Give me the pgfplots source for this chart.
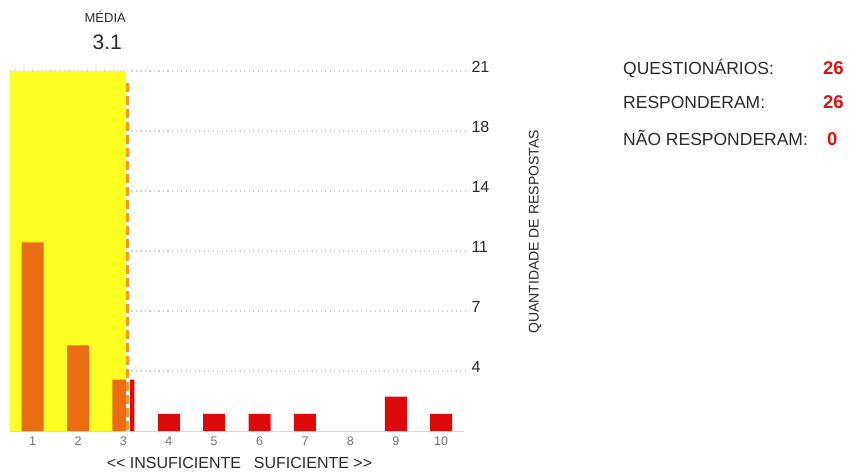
\documentclass[border=0pt]{standalone}
\usepackage{pgfplots}
\pgfplotsset{compat=1.18}
\usepackage{fontspec}
\setmainfont{Liberation Sans}
\definecolor{ylw}{HTML}{FFFF22}
\definecolor{barred}{HTML}{DC0A0A}
\definecolor{dashor}{HTML}{EE9A2A}
\definecolor{valred}{HTML}{DD1111}
\definecolor{gridgray}{HTML}{D4D4D4}
\definecolor{base}{HTML}{F4C8C8}
\definecolor{txt}{HTML}{2A2A2A}
\begin{document}
\begin{tikzpicture}
\path[use as bounding box] (-10pt,-41pt) rectangle (845pt,431pt);
\begin{axis}[
  at={(0pt,0pt)}, anchor=south west,
  scale only axis, width=457pt, height=360pt,
  xmin=0.5, xmax=10.57, ymin=0, ymax=21,
  axis line style={draw=none},
  xtick={1,2,3,4,5,6,7,8,9,10},
  ytick={3.5,7,10.5,14,17.5,21},
  yticklabels={4,7,11,14,18,21},
  yticklabel pos=right,
  major tick length=0pt,
  ymajorgrids,
  grid style={gridgray, line width=1.3pt, dash pattern=on 1.3pt off 3.2pt},
  /pgf/number format/assume math mode=true,
  x tick label style={font=\fontsize{12.5}{12.5}\selectfont, text=black!55, yshift=-2pt},
  y tick label style={font=\fontsize{16}{16}\selectfont, text=txt, xshift=1pt, yshift=4pt},
  xlabel={<{}< INSUFICIENTE\hspace{0.8em}SUFICIENTE >{}>},
  xlabel style={font=\fontsize{16}{16}\selectfont, text=txt, at={(rel axis cs:0.5,0)}, anchor=center, yshift=-32pt, xshift=1pt},
  clip=false,
]
\addplot[fill=ylw, draw=none] coordinates {(0.5,21) (3.1,21)} \closedcycle;
\addplot[ybar, bar width=22pt, fill=barred, draw=none] coordinates {
  (1,11) (2,5) (3,3) (4,1) (5,1) (6,1) (7,1) (8,0) (9,2) (10,1)};
\addplot[fill=ylw, fill opacity=0.4, draw=none] coordinates {(0.5,21) (3.1,21)} \closedcycle;
\addplot[base, line width=1pt] coordinates {(0.5,0) (10.5,0)};
\addplot[white, line width=4pt] coordinates {(3.1,0) (3.1,21)};
\addplot[dashor, line width=3pt, dash pattern=on 9pt off 4pt] coordinates {(3.1,20.3) (3.1,0)};
\end{axis}
\node[rotate=90, font=\fontsize{14}{14}\selectfont, text=txt] at (525pt,199pt) {QUANTIDADE DE RESPOSTAS};
\node[anchor=base east, inner sep=0pt, font=\fontsize{13}{13}\selectfont, text=txt] at (116pt,408pt) {MÉDIA};
\node[anchor=base east, inner sep=0pt, font=\fontsize{21}{21}\selectfont, text=txt] at (112pt,381pt) {3.1};
\node[anchor=base west, inner sep=0pt, font=\fontsize{17.5}{17.5}\selectfont, text=txt] at (613pt,356pt) {QUESTIONÁRIOS:};
\node[anchor=base west, inner sep=0pt, font=\fontsize{17.5}{17.5}\selectfont, text=txt] at (613pt,322pt) {RESPONDERAM:};
\node[anchor=base west, inner sep=0pt, font=\fontsize{17.5}{17.5}\selectfont, text=txt] at (613pt,285pt) {NÃO RESPONDERAM:};
\node[anchor=base west, inner sep=0pt, font=\bfseries\fontsize{18.5}{18.5}\selectfont, text=valred] at (813pt,356pt) {26};
\node[anchor=base west, inner sep=0pt, font=\bfseries\fontsize{18.5}{18.5}\selectfont, text=valred] at (813pt,322pt) {26};
\node[anchor=base west, inner sep=0pt, font=\bfseries\fontsize{18.5}{18.5}\selectfont, text=valred] at (817pt,285pt) {0};
\end{tikzpicture}
\end{document}
